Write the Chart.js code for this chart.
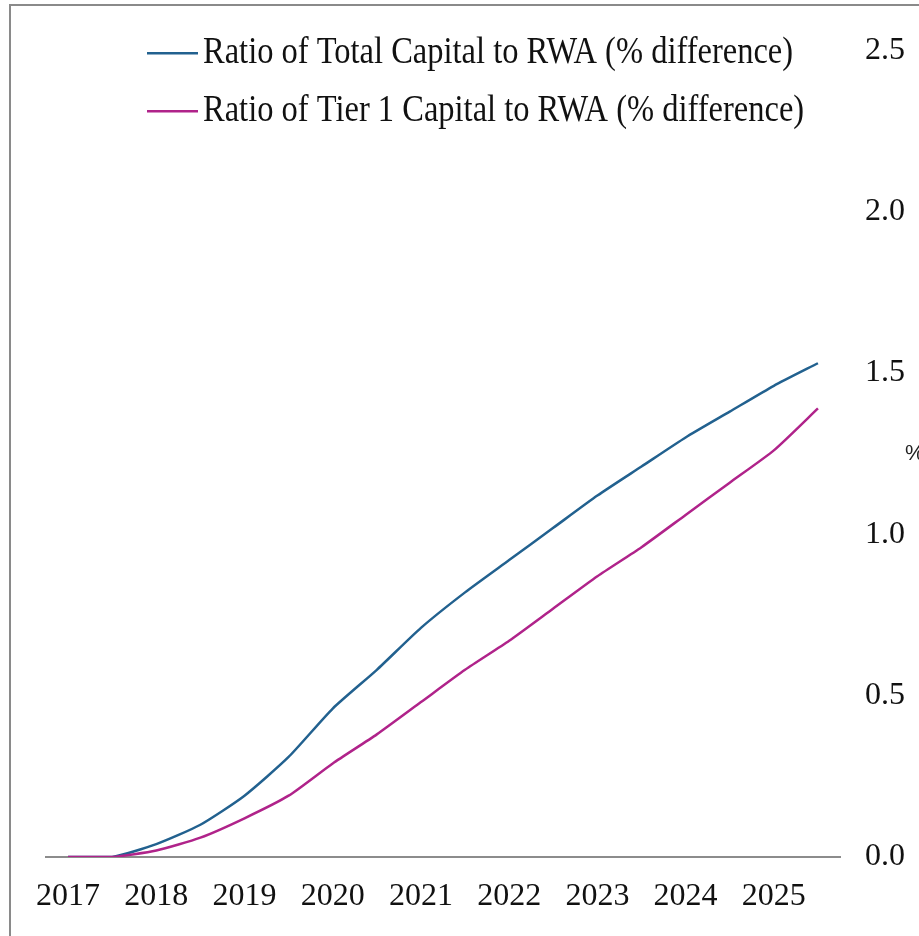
<!DOCTYPE html>
<html>
<head>
<meta charset="utf-8">
<script src="https://cdn.jsdelivr.net/npm/chart.js@4/dist/chart.umd.min.js"></script>
<style>
  html, body { margin: 0; padding: 0; background: #fff; }
  #box {
    position: absolute; left: 9px; top: 4px; width: 908px; height: 930px;
    border-left: 2px solid #8a8a8a; border-top: 2px solid #8a8a8a;
  }
</style>
</head>
<body>
<div id="box"><canvas id="chart_ratios"></canvas></div>
<script>
// half-year periods, 2017 to 2025
var periods = ['2017 H1', '2017 H2', '2018 H1', '2018 H2', '2019 H1', '2019 H2',
  '2020 H1', '2020 H2', '2021 H1', '2021 H2', '2022 H1', '2022 H2',
  '2023 H1', '2023 H2', '2024 H1', '2024 H2', '2025 H1', '2025 H2'];

var totalCapital = [0, 0, 0.04, 0.10, 0.19, 0.31, 0.46, 0.58, 0.71, 0.82,
  0.92, 1.02, 1.12, 1.21, 1.30, 1.38, 1.46, 1.53];
var tier1Capital = [0, 0, 0.02, 0.06, 0.12, 0.19, 0.29, 0.38, 0.48, 0.58,
  0.67, 0.77, 0.87, 0.96, 1.06, 1.16, 1.26, 1.39];

var seriesNames = ['Ratio of Total Capital to RWA (% difference)',
  'Ratio of Tier 1 Capital to RWA (% difference)'];

var yTicks = [0, 0.5, 1.0, 1.5, 2.0, 2.5];

var serif = "'Liberation Serif', 'Times New Roman', serif";

// legend drawn inside the plot, like the original
var insideLegend = {
  id: 'insideLegend',
  afterDraw: function (chart) {
    var ctx = chart.ctx;
    var area = chart.chartArea;
    ctx.save();
    chart.data.datasets.forEach(function (ds, i) {
      var y = area.top + 3 + i * 58;
      var x = area.left + 101;
      ctx.strokeStyle = ds.borderColor;
      ctx.lineWidth = 2.5;
      ctx.beginPath();
      ctx.moveTo(x, y);
      ctx.lineTo(x + 51, y);
      ctx.stroke();
      ctx.save();
      ctx.translate(x + 56, y);
      ctx.scale(1, 1.15);
      ctx.fillStyle = '#111';
      ctx.font = '32.5px ' + serif;
      ctx.textBaseline = 'middle';
      ctx.textAlign = 'left';
      ctx.fillText(ds.label, 0, 0);
      ctx.restore();
    });
    // unit label at the right edge
    ctx.font = "22px 'Liberation Sans', Arial, sans-serif";
    ctx.fillStyle = '#222';
    ctx.textBaseline = 'middle';
    ctx.fillText('%', chart.scales.y.right - 14, (area.top + area.bottom) / 2);
    ctx.restore();
  }
};

var ctx = document.getElementById('chart_ratios').getContext('2d');

var ratiosChart = new Chart(ctx, {
  type: 'line',
  data: {
    labels: periods,
    datasets: [{
      label: seriesNames[0],
      data: totalCapital,
      borderColor: '#22618f',
      backgroundColor: '#22618f',
      borderWidth: 2.5,
      pointRadius: 0,
      tension: 0.2,
      order: 1
    }, {
      label: seriesNames[1],
      data: tier1Capital,
      borderColor: '#b0238a',
      backgroundColor: '#b0238a',
      borderWidth: 2.5,
      pointRadius: 0,
      tension: 0.2,
      order: 0
    }]
  },
  options: {
    responsive: true,
    maintainAspectRatio: false,
    animation: false,
    layout: { padding: { left: 35, top: 42, right: 0, bottom: 0 } },
    plugins: {
      legend: { display: false },
      tooltip: { enabled: false }
    },
    scales: {
      x: {
        offset: true,
        grid: { display: false, drawTicks: false },
        border: { display: true, color: '#8c8c8c', width: 2 },
        ticks: {
          autoSkip: false,
          maxRotation: 0,
          padding: 20,
          color: '#111',
          font: { family: serif, size: 32 },
          callback: function (v, i) {
            var p = periods[i];
            return p.endsWith('H1') ? p.slice(0, 4) : '';
          }
        },
        afterFit: function (scale) { scale.height = 79; }
      },
      y: {
        position: 'right',
        min: 0,
        max: 2.5,
        grid: { display: false, drawTicks: false },
        border: { display: false },
        afterBuildTicks: function (scale) {
          scale.ticks = yTicks.map(function (v) { return { value: v }; });
        },
        ticks: {
          padding: 25,
          color: '#111',
          font: { family: serif, size: 32 },
          callback: function (v) { return v.toFixed(1); }
        },
        afterFit: function (scale) { scale.width = 79; }
      }
    }
  },
  plugins: [insideLegend]
});
</script>
</body>
</html>
